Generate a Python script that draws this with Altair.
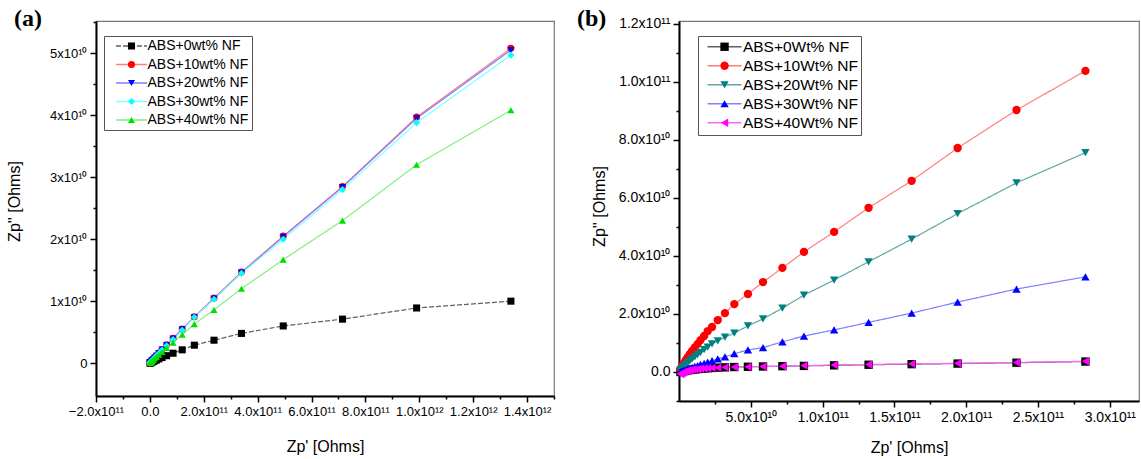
import altair as alt
import pandas as pd

G = 1e9  # values below are stored in units of 1e9 Ohms

# ---------------- Panel (a) ----------------
a_series = ["ABS+0wt% NF", "ABS+10wt% NF", "ABS+20wt% NF", "ABS+30wt% NF", "ABS+40wt% NF"]
a_zre = [1340, 990, 715, 495, 340, 238, 165, 120, 86, 62, 45, 33, 24, 17.5, 13, 9.5, 7, 5, 3.6, 2.6, 1.9, 1.4, 1.0]
a_zim_0 = [10.0, 8.9, 7.1, 6.0, 4.8, 3.7, 2.9, 2.15, 1.6, 1.2, 0.9, 0.68, 0.5, 0.38, 0.29, 0.22, 0.17, 0.12, 0.09, 0.07, 0.05, 0.04, 0.03]
a_zim_10 = [50.8, 39.7, 28.5, 20.5, 14.7, 10.5, 7.5, 5.5, 4.0, 2.95, 2.2, 1.65, 1.22, 0.9, 0.68, 0.5, 0.37, 0.27, 0.2, 0.15, 0.11, 0.08, 0.06]
a_zim_20 = [50.5, 39.5, 28.4, 20.4, 14.6, 10.4, 7.45, 5.45, 3.98, 2.93, 2.18, 1.63, 1.2, 0.89, 0.67, 0.49, 0.36, 0.26, 0.19, 0.14, 0.1, 0.08, 0.06]
a_zim_30 = [49.7, 38.8, 28.0, 20.0, 14.5, 10.3, 7.4, 5.3, 3.8, 2.8, 2.1, 1.55, 1.15, 0.85, 0.64, 0.47, 0.35, 0.25, 0.18, 0.13, 0.1, 0.07, 0.05]
a_zim_40 = [40.8, 32.0, 23.0, 16.7, 12.0, 8.6, 6.3, 4.6, 3.3, 2.45, 1.8, 1.35, 1.0, 0.74, 0.55, 0.41, 0.3, 0.22, 0.16, 0.12, 0.09, 0.06, 0.04]
a_zim = [a_zim_0, a_zim_10, a_zim_20, a_zim_30, a_zim_40]
a_marker_colors = ["#000000", "#ff0000", "#0000ff", "#00ffff", "#00e000"]
a_line_colors = ["#606060", "#ff7f7f", "#7f7fff", "#80ffff", "#80f080"]
a_line_dash = [[5, 2], [1, 0], [1, 0], [1, 0], [1, 0]]
a_shapes = ["square", "circle", "triangle-down", "diamond", "triangle-up"]
a_xticks = [-2e11, -1e11, 0, 1e11, 2e11, 3e11, 4e11, 5e11, 6e11, 7e11, 8e11, 9e11, 1e12, 1.1e12, 1.2e12, 1.3e12, 1.4e12, 1.5e12]
a_yticks = [0, 5e9, 1e10, 1.5e10, 2e10, 2.5e10, 3e10, 3.5e10, 4e10, 4.5e10, 5e10, 5.5e10]

# ---------------- Panel (b) ----------------
b_series = ["ABS+0Wt% NF", "ABS+10Wt% NF", "ABS+20Wt% NF", "ABS+30Wt% NF", "ABS+40Wt% NF"]
b_zre = [283, 235, 194, 162, 132, 108, 87, 72, 58.5, 48, 38.5, 32, 27, 23, 20, 17.5, 15, 13, 11, 9.2, 7.6, 6.2, 5, 4, 3, 2.2, 1.5, 1.0]
b_zim_0 = [3.6, 3.2, 2.9, 2.7, 2.5, 2.3, 2.1, 2.0, 1.9, 1.8, 1.7, 1.6, 1.5, 1.4, 1.3, 1.2, 1.1, 1.0, 0.9, 0.8, 0.7, 0.6, 0.5, 0.4, 0.3, 0.2, 0.1, 0.0]
b_zim_10 = [103.8, 90.3, 77.2, 65.9, 56.6, 48.3, 41.4, 35.9, 31.0, 26.9, 23.4, 20.3, 17.9, 15.5, 14.1, 12.4, 11.0, 9.7, 8.5, 7.3, 6.2, 5.2, 4.3, 3.5, 2.7, 2.0, 1.4, 1.0]
b_zim_20 = [75.6, 65.2, 54.6, 45.8, 38.0, 31.7, 26.5, 22.0, 18.3, 15.9, 13.4, 12.0, 10.7, 9.7, 8.6, 7.7, 6.8, 6.0, 5.2, 4.5, 3.8, 3.2, 2.6, 2.1, 1.6, 1.2, 0.8, 0.5]
b_zim_30 = [32.8, 28.6, 24.1, 20.3, 17.1, 14.5, 12.4, 10.4, 8.4, 7.6, 6.3, 5.2, 4.5, 3.9, 3.4, 3.0, 2.6, 2.2, 1.9, 1.6, 1.3, 1.0, 0.8, 0.6, 0.4, 0.3, 0.2, 0.1]
b_zim_40 = [3.7, 3.3, 3.0, 2.8, 2.6, 2.4, 2.2, 2.0, 1.9, 1.8, 1.7, 1.6, 1.5, 1.4, 1.3, 1.2, 1.1, 1.0, 0.9, 0.8, 0.6, 0.5, 0.3, 0.1, -0.1, -0.3, -0.5, -0.7]
b_zim = [b_zim_0, b_zim_10, b_zim_20, b_zim_30, b_zim_40]
b_marker_colors = ["#000000", "#ff0000", "#008080", "#0000ff", "#ff00ff"]
b_line_colors = ["#606060", "#ff7f7f", "#5fa8a4", "#7f7fff", "#ff66ff"]
b_line_dash = [[1, 0], [1, 0], [1, 0], [1, 0], [1, 0]]
b_shapes = ["square", "circle", "triangle-down", "triangle-up", "triangle-left"]
b_xticks = [2.5e10, 5e10, 7.5e10, 1e11, 1.25e11, 1.5e11, 1.75e11, 2e11, 2.25e11, 2.5e11, 2.75e11, 3e11]
b_yticks = [-1e10, 0, 1e10, 2e10, 3e10, 4e10, 5e10, 6e10, 7e10, 8e10, 9e10, 1e11, 1.1e11, 1.2e11]

FONT = "Liberation Sans"


def make_df(series, zre, zims):
    rows = []
    for name, zim in zip(series, zims):
        for j, (xv, yv) in enumerate(zip(zre, zim)):
            rows.append({"x": xv * G, "y": yv * G, "s": name, "sl": name + " ", "i": j})
    return pd.DataFrame(rows)


def tick_size(test):
    return {"condition": {"test": test, "value": 3}, "value": 6}


def panel(df, series, mcolors, lcolors, ldash, shapes, xdom, ydom, xticks, yticks,
          xlabel, ylabel, xminor, yminor, width, height, tag, tagx,
          ytitle_x, ytitle_y, xtitle_y, lab_fs, leg, msize):
    xaxis = alt.Axis(values=xticks, labelExpr=xlabel, tickSize=tick_size(xminor),
                     title="Zp' [Ohms]", titleY=xtitle_y, labelFontSize=lab_fs)
    yaxis = alt.Axis(values=yticks, labelExpr=ylabel, tickSize=tick_size(yminor),
                     title="Zp'' [Ohms]", titleX=ytitle_x, titleY=ytitle_y, titleAngle=270,
                     titleBaseline="bottom", titleAlign="center", labelFontSize=lab_fs)
    base = alt.Chart(df).encode(
        x=alt.X("x:Q", scale=alt.Scale(domain=xdom, nice=False, zero=False), axis=xaxis),
        y=alt.Y("y:Q", scale=alt.Scale(domain=ydom, nice=False, zero=False), axis=yaxis),
    )
    r = (msize ** 0.5) / 2
    half = leg["line_half"] / r
    common = dict(orient="none", legendX=leg["x"], legendY=leg["y"], title=None,
                  padding=leg["pad"], symbolSize=msize, symbolOffset=leg["soff"],
                  labelOffset=leg["loff"], labelFont=FONT, labelFontSize=leg["fs"],
                  labelColor="black", rowPadding=leg["rowpad"])
    line_legend = alt.Legend(symbolType=f"M-{half:.3f},0H{half:.3f}", labelOpacity=0,
                             symbolStrokeWidth=1.3, **common)
    shape_legend = alt.Legend(strokeColor="#555555", symbolStrokeWidth=0, **common)
    ldom = [s + " " for s in series]
    lines = base.mark_line(strokeWidth=1.2).encode(
        stroke=alt.Stroke("sl:N", scale=alt.Scale(domain=ldom, range=lcolors), legend=line_legend),
        strokeDash=alt.StrokeDash("sl:N", scale=alt.Scale(domain=ldom, range=ldash), legend=None),
        order="i:Q",
    )
    pts = base.mark_point(filled=True, size=msize, opacity=1, strokeWidth=0).encode(
        fill=alt.Fill("s:N", scale=alt.Scale(domain=series, range=mcolors), legend=shape_legend),
        shape=alt.Shape("s:N", scale=alt.Scale(domain=series, range=shapes), legend=shape_legend),
    )
    label = alt.Chart(pd.DataFrame({"t": [tag]})).mark_text(
        font="Liberation Serif", fontWeight="bold", fontSize=24, align="left",
        baseline="top", color="black").encode(
        text="t:N", x=alt.value(tagx), y=alt.value(-14))
    return alt.layer(lines, pts, label).properties(width=width, height=height)


a_xlabel = ("abs(round(datum.value/1e11)) % 2 == 1 ? '' : (datum.value == 0 ? '0.0' : "
            "(abs(datum.value) >= 1e12 ? format(datum.value/1e12, '.1f') + 'x10\u00b9\u00b2' : "
            "format(datum.value/1e11, '.1f') + 'x10\u00b9\u00b9'))")
a_ylabel = ("abs(round(datum.value/5e9)) % 2 == 1 ? '' : (datum.value == 0 ? '0' : "
            "format(datum.value/1e10, '.0f') + 'x10\u00b9\u2070')")
b_xlabel = ("round(datum.value/2.5e10) % 2 == 1 ? '' : (datum.value < 1e11 ? "
            "format(datum.value/1e10, '.1f') + 'x10\u00b9\u2070' : format(datum.value/1e11, '.1f') + 'x10\u00b9\u00b9')")
b_ylabel = ("abs(round(datum.value/1e10)) % 2 == 1 ? '' : (datum.value == 0 ? '0.0' : (datum.value < 1e11 ? "
            "format(datum.value/1e10, '.1f') + 'x10\u00b9\u2070' : format(datum.value/1e11, '.1f') + 'x10\u00b9\u00b9'))")

pa = panel(make_df(a_series, a_zre, a_zim), a_series, a_marker_colors, a_line_colors, a_line_dash, a_shapes,
           [-2e11, 1.5e12], [-5.3e9, 5.52e10], a_xticks, a_yticks,
           a_xlabel, a_ylabel,
           "abs(round(datum.value/1e11)) % 2 == 1", "abs(round(datum.value/5e9)) % 2 == 1",
           458, 375, "(a)", -82, -74, 180, 42, 13,
           dict(x=8, y=15, pad=3, soff=17.5, loff=9, fs=14, rowpad=4.5, line_half=15.5), 50)

pb = panel(make_df(b_series, b_zre, b_zim), b_series, b_marker_colors, b_line_colors, b_line_dash, b_shapes,
           [0, 3.203e11], [-1.0e10, 1.21e11], b_xticks, b_yticks,
           b_xlabel, b_ylabel,
           "round(datum.value/2.5e10) % 2 == 1", "abs(round(datum.value/1e10)) % 2 == 1",
           460, 380, "(b)", -102, -72, 185, 38, 14,
           dict(x=19, y=15, pad=3, soff=15.8, loff=10.6, fs=15.5, rowpad=2, line_half=17), 70)

chart = alt.hconcat(pa, pb, spacing=125, bounds="flush").resolve_scale(
    x="independent", y="independent", fill="independent", stroke="independent",
    shape="independent", strokeDash="independent"
).resolve_legend(
    fill="independent", stroke="independent", shape="independent"
).properties(
    padding={"left": 5, "top": 6, "right": 0, "bottom": 0},
    autosize=alt.AutoSizeParams(type="pad"),
).configure_view(
    stroke="#777777", strokeWidth=1.2
).configure_axis(
    domainColor="black", domainWidth=2, tickColor="black", tickWidth=1.5,
    labelFont=FONT, labelColor="black", labelPadding=3, labelOverlap=False,
    labelFlush=False, labelBound=False, grid=False,
    titleFont=FONT, titleFontSize=16, titleFontWeight="normal", titleColor="black",
)

chart.save("out.html", embed_options={"renderer": "svg", "actions": False})
